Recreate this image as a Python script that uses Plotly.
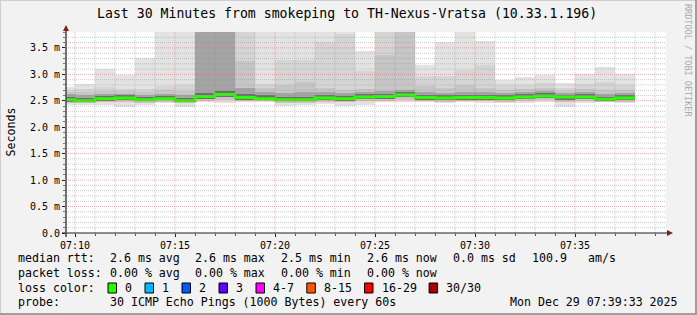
import plotly.graph_objects as go
import pandas as pd

# ---------------- data (milliseconds) ----------------
minutes = pd.date_range("2025-12-29 07:09:00", periods=29, freq="1min")

ping_max = [2.76, 2.81, 3.11, 2.98, 3.31, 3.90, 3.90, 3.90, 3.90, 3.90, 3.90, 3.90, 3.90, 3.90, 3.90,
            3.44, 3.90, 3.90, 3.18, 3.62, 3.90, 3.63, 2.89, 2.94, 2.98, 2.84, 3.00, 3.13, 3.00]
ping_hi2 = [2.70, 2.72, 2.76, 2.73, 2.72, 2.78, 2.80, 3.90, 3.90, 3.90, 2.81, 3.27, 3.27, 3.61, 3.76,
            3.06, 3.90, 3.90, 2.96, 2.96, 3.08, 3.18, 2.80, 2.80, 2.84, 2.74, 2.82, 2.85, 2.80]
ping_hi3 = [2.66, 2.66, 2.68, 2.68, 2.66, 2.70, 2.68, 3.90, 3.90, 3.25, 2.74, 2.80, 2.86, 2.74, 2.70,
            2.72, 3.37, 3.90, 2.78, 2.75, 2.80, 2.75, 2.70, 2.72, 2.74, 2.68, 2.72, 2.70, 2.70]
ping_hi4 = [2.62, 2.60, 2.63, 2.63, 2.61, 2.63, 2.60, 3.90, 3.90, 2.75, 2.66, 2.65, 2.66, 2.66, 2.64,
            2.66, 2.68, 2.70, 2.66, 2.65, 2.66, 2.66, 2.64, 2.66, 2.68, 2.64, 2.66, 2.62, 2.64]
ping_hi5 = [2.58, 2.56, 2.59, 2.60, 2.57, 2.59, 2.55, 2.64, 2.68, 2.62, 2.60, 2.58, 2.58, 2.60, 2.59,
            2.62, 2.63, 2.66, 2.61, 2.60, 2.61, 2.61, 2.60, 2.62, 2.64, 2.61, 2.62, 2.58, 2.60]
median_rtt = [2.52, 2.50, 2.54, 2.55, 2.52, 2.54, 2.50, 2.58, 2.62, 2.56, 2.54, 2.52, 2.52, 2.55, 2.54,
              2.57, 2.58, 2.61, 2.56, 2.55, 2.56, 2.56, 2.55, 2.57, 2.59, 2.57, 2.57, 2.53, 2.55]
ping_lo5 = [2.48, 2.47, 2.50, 2.51, 2.49, 2.51, 2.47, 2.53, 2.57, 2.52, 2.51, 2.49, 2.49, 2.51, 2.50,
            2.53, 2.54, 2.57, 2.52, 2.51, 2.52, 2.52, 2.51, 2.53, 2.55, 2.52, 2.53, 2.50, 2.51]
ping_lo2 = [2.46, 2.45, 2.47, 2.47, 2.46, 2.48, 2.45, 2.50, 2.52, 2.49, 2.49, 2.46, 2.46, 2.48, 2.47,
            2.49, 2.50, 2.52, 2.49, 2.48, 2.49, 2.49, 2.48, 2.49, 2.51, 2.47, 2.49, 2.47, 2.48]
ping_min = [2.42, 2.42, 2.42, 2.39, 2.42, 2.46, 2.39, 2.48, 2.46, 2.47, 2.47, 2.40, 2.42, 2.44, 2.40,
            2.42, 2.47, 2.48, 2.47, 2.45, 2.47, 2.45, 2.45, 2.45, 2.47, 2.39, 2.45, 2.47, 2.45]

y_tickvals = [0.0, 0.5, 1.0, 1.5, 2.0, 2.5, 3.0, 3.5]
y_ticktext = ["0.0", "0.5 m", "1.0 m", "1.5 m", "2.0 m", "2.5 m", "3.0 m", "3.5 m"]
x_ticktext = ["07:10", "07:15", "07:20", "07:25", "07:30", "07:35"]

loss_labels = ["0", "1", "2", "3", "4-7", "8-15", "16-29", "30/30"]
loss_colors = ["#26ff00", "#00b8ff", "#0059ff", "#5e00ff", "#ff00ff", "#ff5500", "#ff0000", "#a10000"]

stats_rtt = ["2.6 ms avg", "2.6 ms max", "2.5 ms min", "2.6 ms now", "0.0 ms sd", "100.9", "am/s"]
stats_loss = ["0.00 % avg", "0.00 % max", "0.00 % min", "0.00 % now"]
probe_text = "30 ICMP Echo Pings (1000 Bytes) every 60s"
stamp_text = "Mon Dec 29 07:39:33 2025"
title_text = "Last 30 Minutes from smokeping to TH-Nexus-Vratsa (10.33.1.196)"

# ---------------- geometry helpers ----------------
W, H = 697, 315
L, R, T, B = 66, 31, 32, 82
PW, PH = W - L - R, H - T - B
MONO = "DejaVu Sans Mono"


def px(x):
    return (x - L) / PW


def py(y):
    return (H - B - y) / PH


fig = go.Figure()
centers = minutes + pd.Timedelta(seconds=30)


def band(lo, hi, color):
    fig.add_trace(go.Bar(
        x=centers, base=lo, y=[h - l for h, l in zip(hi, lo)], width=60000,
        marker=dict(color=color, line=dict(width=0)),
        hoverinfo="skip", showlegend=False))


band(ping_min, ping_max, "#e3e3e3")
band(ping_lo2, ping_hi2, "#d5d5d5")
band(ping_lo2, ping_hi3, "#c6c6c6")
band(ping_lo5, ping_hi4, "#a4a4a4")
band(ping_lo5, ping_hi5, "#6e6e6e")

fig.add_trace(go.Scatter(
    x=list(minutes) + [minutes[-1] + pd.Timedelta(minutes=1)],
    y=median_rtt + [median_rtt[-1]],
    mode="lines", line=dict(color="#26ff00", width=3, shape="hv"),
    hoverinfo="skip", showlegend=False))

x0 = pd.Timestamp("2025-12-29 07:09:33")
x1 = pd.Timestamp("2025-12-29 07:39:33")
major_x = pd.date_range("2025-12-29 07:10", "2025-12-29 07:35", freq="5min")
all_x = pd.date_range("2025-12-29 07:10", "2025-12-29 07:39", freq="1min")

shapes = []
# grid drawn above the smoke, like rrdtool
for t in all_x:
    is_major = t in major_x
    shapes.append(dict(type="line", xref="x", yref="paper", x0=t, x1=t, y0=0, y1=1, layer="above",
                       line=dict(color="rgba(222,79,79,0.45)" if is_major else "rgba(143,143,143,0.45)",
                                 width=1, dash="1px,1px")))
for i in range(1, 38):
    v = i / 10
    is_major = i % 5 == 0
    shapes.append(dict(type="line", xref="paper", yref="y", x0=0, x1=1, y0=v, y1=v, layer="above",
                       line=dict(color="rgba(222,79,79,0.45)" if is_major else "rgba(143,143,143,0.45)",
                                 width=1, dash="1px,1px")))
# axes lines + arrows
shapes.append(dict(type="line", xref="paper", yref="paper", x0=px(62), x1=px(669), y0=0, y1=0,
                   layer="above", line=dict(color="#1f1f1f", width=1)))
shapes.append(dict(type="line", xref="paper", yref="paper", x0=0, x1=0, y0=py(237), y1=py(30),
                   layer="above", line=dict(color="#444444", width=1.5)))
shapes.append(dict(type="path", xref="paper", yref="paper", layer="above",
                   path=f"M {px(667)},{py(230)} L {px(673)},{py(233)} L {px(667)},{py(236)} Z",
                   fillcolor="#801f1f", line=dict(width=0)))
shapes.append(dict(type="path", xref="paper", yref="paper", layer="above",
                   path=f"M {px(63)},{py(31)} L {px(66)},{py(25)} L {px(69)},{py(31)} Z",
                   fillcolor="#801f1f", line=dict(width=0)))
# image frame
shapes.append(dict(type="line", xref="paper", yref="paper", x0=px(0.5), x1=px(0.5), y0=py(0), y1=py(315),
                   line=dict(color="#cfcfcf", width=1)))
shapes.append(dict(type="line", xref="paper", yref="paper", x0=px(0), x1=px(697), y0=py(0.5), y1=py(0.5),
                   line=dict(color="#cfcfcf", width=1)))
shapes.append(dict(type="line", xref="paper", yref="paper", x0=px(696), x1=px(696), y0=py(0), y1=py(315),
                   line=dict(color="#9e9e9e", width=2)))
shapes.append(dict(type="line", xref="paper", yref="paper", x0=px(0), x1=px(697), y0=py(314), y1=py(314),
                   line=dict(color="#9e9e9e", width=2)))

annotations = []


def text(x, y, s, size=11.6, anchor="left", color="#000000", angle=0):
    annotations.append(dict(xref="paper", yref="paper", x=px(x), y=py(y), text=s, showarrow=False,
                            xanchor=anchor, yanchor="middle", textangle=angle,
                            font=dict(family=MONO, size=size, color=color)))


text(347, 13, title_text, size=13.2, anchor="center")
text(10.5, 132, "Seconds", size=11.6, anchor="center", angle=-90)
text(688, 60, "RRDTOOL / TOBI OETIKER", size=8.5, anchor="center", color="#aaaaaa", angle=90)

field_x = [107.6, 193.3, 279.0, 365.0, 451.0, 530.0, 586.0]
text(16.4, 258, "median rtt:")
for s, xx in zip(stats_rtt, field_x):
    text(xx, 258, s)
text(16.4, 273, "packet loss:")
for s, xx in zip(stats_loss, field_x):
    text(xx, 273, s)
text(16.4, 288, "loss color:")
bx = 108.0
for lab, col in zip(loss_labels, loss_colors):
    shapes.append(dict(type="rect", xref="paper", yref="paper", x0=px(bx), x1=px(bx + 8.5),
                       y0=py(283), y1=py(293), fillcolor=col, line=dict(color="#000000", width=1)))
    text(bx + 15, 288, lab)
    bx += 30.1 + 6.9 * len(lab)
text(16.4, 302, "probe:")
text(107.6, 302, probe_text)
text(680, 302, stamp_text, anchor="right")

fig.update_layout(
    width=W, height=H, margin=dict(l=L, r=R, t=T, b=B, pad=0),
    paper_bgcolor="#f2f2f2", plot_bgcolor="#ffffff",
    barmode="overlay", bargap=0, showlegend=False,
    font=dict(family=MONO, size=10, color="#000000"),
    shapes=shapes, annotations=annotations,
    xaxis=dict(type="date", range=[x0, x1], tickvals=list(major_x), ticktext=x_ticktext,
               showgrid=False, zeroline=False, showline=False, ticks="outside", ticklen=3,
               tickcolor="#1f1f1f", tickfont=dict(family=MONO, size=10),
               minor=dict(tickvals=list(all_x), ticks="outside", ticklen=2, tickcolor="#555555", showgrid=False)),
    yaxis=dict(range=[0, 3.8], tickvals=y_tickvals, ticktext=y_ticktext, showgrid=False, zeroline=False,
               showline=False, ticks="outside", ticklen=3, tickcolor="#1f1f1f",
               tickfont=dict(family=MONO, size=10),
               minor=dict(dtick=0.1, tick0=0, ticks="outside", ticklen=2, tickcolor="#777777", showgrid=False)),
)

fig.write_html("out.html")
